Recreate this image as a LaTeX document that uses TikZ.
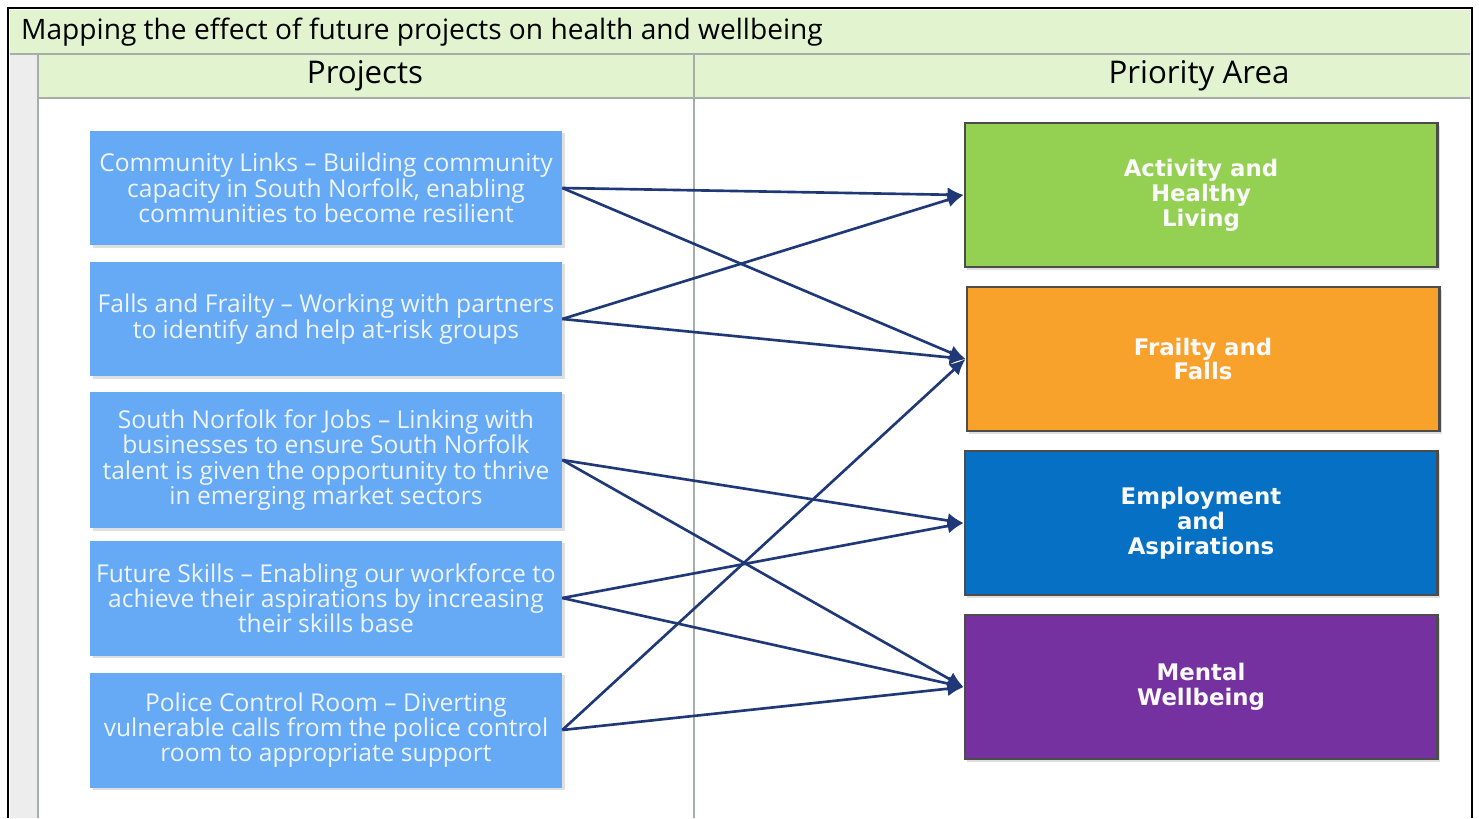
\documentclass[tikz,border=0pt]{standalone}
\usepackage{fontspec}
\setmainfont{Open Sans}
\newfontfamily\areafont{DejaVu Sans}
\usepackage{xcolor}
\usetikzlibrary{positioning,arrows.meta,shadows}

\definecolor{headgreen}{HTML}{E2F3D0}
\definecolor{gridgray}{HTML}{A7ADA7}
\definecolor{stripgray}{HTML}{EDEDED}
\definecolor{projblue}{HTML}{66A9F5}
\definecolor{projtext}{HTML}{EEF5FF}
\definecolor{actgreen}{HTML}{94D153}
\definecolor{frailorange}{HTML}{F8A12B}
\definecolor{empblue}{HTML}{0670C5}
\definecolor{mentpurple}{HTML}{7631A0}
\definecolor{linknavy}{HTML}{1F3877}

\begin{document}
\begin{tikzpicture}[
  x=0.02cm, y=-0.02cm,
  proj/.style={fill=projblue, text=projtext, minimum width=9.44cm,
               minimum height=2.3cm, align=center, inner sep=2pt,
               font=\fontsize{14}{14.4}\selectfont,
               drop shadow={shadow xshift=1.5pt, shadow yshift=-1.5pt, opacity=0.25}},
  area/.style={draw=black!70, line width=1.2pt, text=white!96!gray, minimum width=9.46cm,
               minimum height=2.88cm, align=center, inner sep=2pt,
               font=\areafont\bfseries\fontsize{13}{14.2}\selectfont,
               drop shadow={shadow xshift=1.5pt, shadow yshift=-1.5pt, opacity=0.25}},
  link/.style={-{Latex[length=3.2mm,width=3mm]}, line width=1.5pt, draw=linknavy},
]
\useasboundingbox (0,0) rectangle (1479,818);

%% Table frame
\fill[white] (8,8) rectangle (1472,818);
\fill[headgreen] (10,10) rectangle (1470,98);
\fill[stripgray] (10,55) rectangle (38,818);
\draw[gridgray, line width=0.8pt] (10,54) -- (1470,54);
\draw[gridgray, line width=0.8pt] (38,98) -- (1470,98);
\draw[gridgray, line width=0.8pt] (38,55) -- (38,818);
\draw[gridgray, line width=1pt] (694,55) -- (694,818);
\draw[black, line width=1.6pt] (8,818) -- (8,8) -- (1472,8) -- (1472,818);

%% Headings
\node[anchor=west, font=\fontsize{16}{17}\selectfont] (title) at (15,32)
  {Mapping the effect of future projects on health and wellbeing};
\node[font=\fontsize{17.8}{19}\selectfont] (projhead) at (365,76) {Projects};
\node[font=\fontsize{17.8}{19}\selectfont] (areahead) at (1199,76) {Priority Area};

%% Projects
\node[proj] (links)  at (326,188) {Community Links -- Building community\\capacity in South Norfolk, enabling\\communities to become resilient};
\node[proj] (falls)  at (326,319) {Falls and Frailty -- Working with partners\\to identify and help at-risk groups};
\node[proj, minimum height=2.74cm] (jobs) at (326,460) {South Norfolk for Jobs -- Linking with\\businesses to ensure South Norfolk\\talent is given the opportunity to thrive\\in emerging market sectors};
\node[proj] (skills) at (326,598) {Future Skills -- Enabling our workforce to\\achieve their aspirations by increasing\\their skills base};
\node[proj] (police) at (326,730) {Police Control Room -- Diverting\\vulnerable calls from the police control\\room to appropriate support};

%% Priority areas
\node[area, fill=actgreen]    (active) at (1201,195) {Activity and\\Healthy\\Living};
\node[area, fill=frailorange] (frail)  at (1203,359) {Frailty and\\Falls};
\node[area, fill=empblue]     (employ) at (1201,523) {Employment\\and\\Aspirations};
\node[area, fill=mentpurple]  (mental) at (1201,687) {Mental\\Wellbeing};

%% Links
\draw[link] (links.east)  -- (active.west);
\draw[link] (links.east)  -- (frail.west);
\draw[link] (falls.east)  -- (active.west);
\draw[link] (falls.east)  -- (frail.west);
\draw[link] (jobs.east)   -- (employ.west);
\draw[link] (jobs.east)   -- (mental.west);
\draw[link] (skills.east) -- (employ.west);
\draw[link] (skills.east) -- (mental.west);
\draw[link] (police.east) -- (frail.west);
\draw[link] (police.east) -- (mental.west);

\end{tikzpicture}
\end{document}
